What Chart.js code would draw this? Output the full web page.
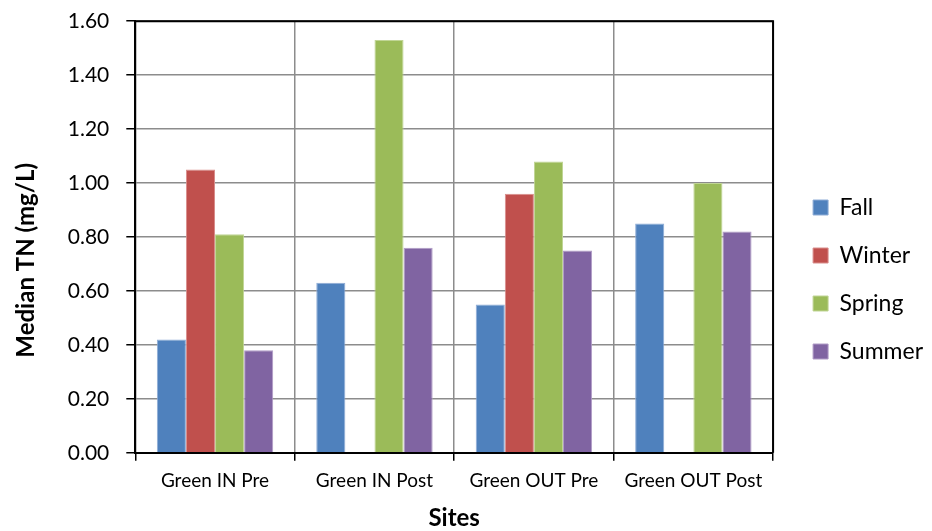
<!DOCTYPE html>
<html>
<head>
<meta charset="utf-8">
<script src="https://cdn.jsdelivr.net/npm/chart.js@4/dist/chart.umd.min.js"></script>
<style>
  html, body { margin: 0; padding: 0; background: #fff; }
  #wrap { width: 932px; height: 531px; }
</style>
</head>
<body>
<div id="wrap"><canvas id="tnChart" width="932" height="531"></canvas></div>
<script>
const sites = ['Green IN Pre', 'Green IN Post', 'Green OUT Pre', 'Green OUT Post'];
const fall = [0.42, 0.63, 0.55, 0.85];
const winter = [1.05, null, 0.96, null];
const spring = [0.81, 1.53, 1.08, 1.00];
const summer = [0.38, 0.76, 0.75, 0.82];

const FONT = 'Lato, "Open Sans", sans-serif';

// black frame round the plot area
const frame = {
  id: 'frame',
  afterDraw(chart) {
    const a = chart.chartArea, c = chart.ctx;
    c.save();
    c.strokeStyle = '#000';
    c.lineWidth = 2;
    c.beginPath();
    c.moveTo(a.left, a.top); c.lineTo(a.right, a.top); c.lineTo(a.right, a.bottom);
    c.stroke();
    c.restore();
  }
};

// push the legend a bit to the right of the plot
const legendShift = {
  id: 'legendShift',
  afterLayout(chart) {
    const lg = chart.legend;
    if (!lg) return;
    lg.left += 15;
    lg.right += 15;
    if (lg.legendHitBoxes) lg.legendHitBoxes.forEach(h => { h.left += 15; });
  }
};

document.addEventListener('DOMContentLoaded', () => {
  const ctx = document.getElementById('tnChart').getContext('2d');
  new Chart(ctx, {
    type: 'bar',
    data: {
      labels: sites,
      datasets: [
        { label: 'Fall', data: fall, backgroundColor: '#4F81BD', borderColor: '#8EACD6', borderWidth: 1 },
        { label: 'Winter', data: winter, backgroundColor: '#C0504D', borderColor: '#D98E8C', borderWidth: 1 },
        { label: 'Spring', data: spring, backgroundColor: '#9BBB59', borderColor: '#C0D595', borderWidth: 1 },
        { label: 'Summer', data: summer, backgroundColor: '#8064A2', borderColor: '#B09CC6', borderWidth: 1 }
      ]
    },
    options: {
      responsive: false,
      animation: false,
      layout: { padding: { top: 4, right: 14, bottom: 0, left: 4 } },
      datasets: { bar: { categoryPercentage: 0.73, barPercentage: 1.0 } },
      plugins: {
        tooltip: { enabled: false },
        legend: {
          position: 'right',
          title: { display: true, text: ' ', padding: 6, font: { size: 10 } },
          labels: {
            color: '#000',
            font: { family: FONT, size: 23 },
            boxWidth: 15, boxHeight: 15,
            padding: 25
          }
        }
      },
      scales: {
        x: {
          grid: { color: '#8c8c8c', lineWidth: 1.5, tickColor: '#000', tickLength: 8, offset: true },
          border: { color: '#000', width: 2 },
          ticks: { color: '#000', font: { family: FONT, size: 19 }, padding: 9 },
          title: { display: true, text: 'Sites', color: '#000', font: { family: FONT, size: 24, weight: 'bold', lineHeight: 1.1 }, padding: { top: 3, bottom: 0 } }
        },
        y: {
          min: 0, max: 1.6,
          grid: { color: '#8c8c8c', lineWidth: 1.5, tickColor: '#000', tickLength: 9 },
          border: { color: '#000', width: 2 },
          ticks: { stepSize: 0.2, color: '#000', font: { family: FONT, size: 21, lineHeight: 0.4 }, padding: 17,
                   callback: v => Number(v).toFixed(2) },
          title: { display: true, text: 'Median TN (mg/L)        ', color: '#000', font: { family: FONT, size: 24, weight: 'bold' }, padding: { top: 8, bottom: 10 } }
        }
      }
    },
    plugins: [frame, legendShift]
  });
});
</script>
</body>
</html>
